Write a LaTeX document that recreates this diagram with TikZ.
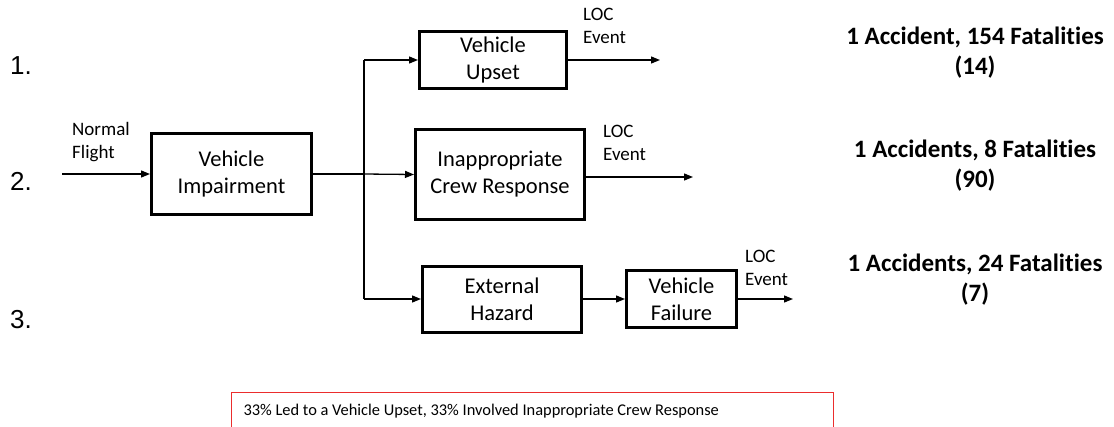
\documentclass[tikz,border=0pt]{standalone}
\usepackage{fontspec}
\setmainfont{Carlito}[Ligatures={NoCommon}]
\newfontfamily\arialfont{Liberation Sans}
\usetikzlibrary{arrows.meta}
\definecolor{notered}{RGB}{235,45,45}
\begin{document}
\begin{tikzpicture}[x=1pt,y=-1pt,
  box/.style={draw,line width=3pt,align=center,inner sep=0pt,
    font=\fontsize{22.5}{27}\selectfont},
  arr/.style={line width=1.3pt,-{Triangle[length=9pt,width=7pt]}},
  trunk/.style={line width=2.2pt},
  lbl/.style={align=left,inner sep=0pt,anchor=north west,
    font=\fontsize{19}{23}\selectfont},
  res/.style={align=center,inner sep=0pt,
    font=\bfseries\fontsize{25}{30}\selectfont},
  num/.style={inner sep=0pt,anchor=west,font=\arialfont\fontsize{26}{30}\selectfont}]
\useasboundingbox (0,0) rectangle (1114,426);

% row numbers
\node[num] (n1) at (10,66) {1.};
\node[num] (n2) at (10,181) {2.};
\node[num] (n3) at (10,320) {3.};

% boxes
\node[box,minimum width=160pt,minimum height=81pt] (VI) at (231.5,174) {Vehicle\\Impairment};
\node[box,minimum width=147pt,minimum height=57pt] (VU) at (493,60) {Vehicle\\Upset};
\node[box,minimum width=169pt,minimum height=90pt] (ICR) at (500,174.5) {Inappropriate\\Crew Response};
\node[box,minimum width=159pt,minimum height=66pt] (EH) at (502,299) {External\\Hazard};
\node[box,minimum width=110pt,minimum height=57pt] (VF) at (681.5,299) {Vehicle\\Failure};

% labels
\node[lbl] (nfl) at (72,122) {Normal\\Flight};
\node[lbl] (loc1) at (583,8) {LOC\\Event};
\node[lbl] (loc2) at (603,125) {LOC\\Event};
\node[lbl] (loc3) at (745,250) {LOC\\Event};

% results
\node[res] (r1) at (975,53) {1 Accident, 154 Fatalities\\(14)};
\node[res] (r2) at (975,166) {1 Accidents, 8 Fatalities\\(90)};
\node[res] (r3) at (975,280) {1 Accidents, 24 Fatalities\\(7)};

% free ends
\coordinate (nfs) at (62,174);
\coordinate (br) at (364,174);
\coordinate (e1) at (660,60);
\coordinate (e2) at (693,177);
\coordinate (e3) at (793,299);

% connectors
\draw[arr] (nfs) -- (VI.west);
\draw[trunk] (VI.east) -- (br);
\draw[trunk] (br |- VU.west) -- (br |- EH.west);
\draw[arr] (br |- VU.west) -- (VU.west);
\draw[arr] (br) -- (ICR.west);
\draw[arr] (br |- EH.west) -- (EH.west);
\draw[arr] (EH.east) -- (VF.west);
\draw[arr] (VU.east) -- (e1);
\draw[arr] (ICR.east |- e2) -- (e2);
\draw[arr] (VF.east) -- (e3);

% note
\node[draw=notered,line width=1pt,anchor=north west,
  inner xsep=12pt,inner ysep=11pt,text height=12pt,text depth=25pt,
  font=\fontsize{16.4}{20}\selectfont] (note) at (231,392)
  {\makebox[578pt][l]{33\% Led to a Vehicle Upset, 33\% Involved Inappropriate Crew Response}};
\end{tikzpicture}
\end{document}
